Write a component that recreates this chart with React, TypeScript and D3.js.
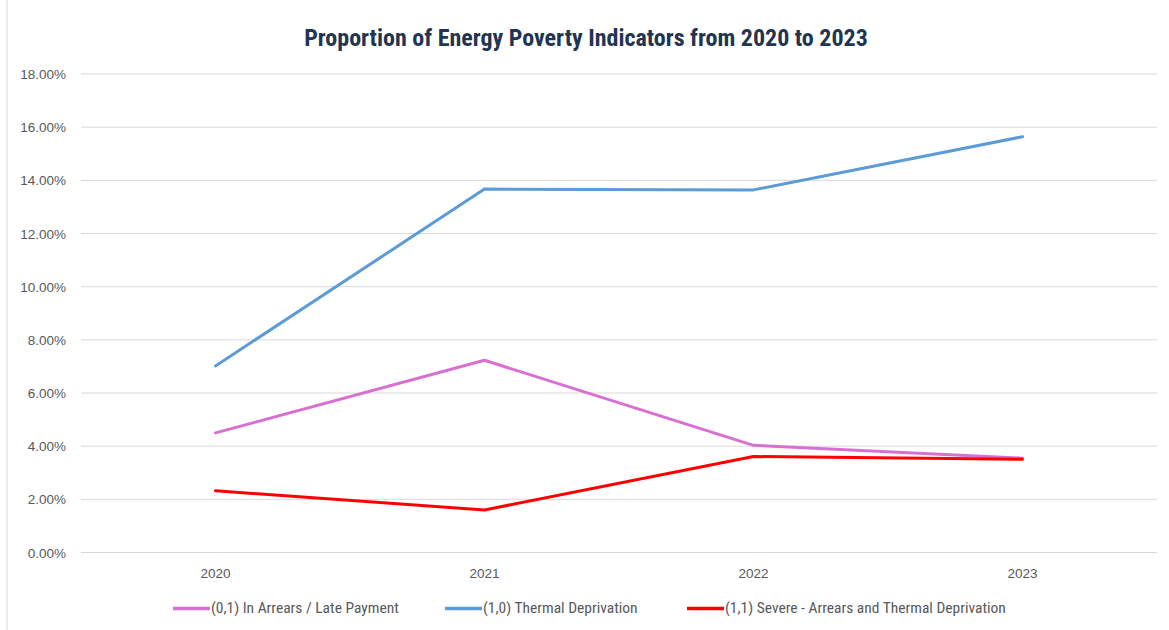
import React from "react";
import * as d3 from "d3";

const years = ["2020", "2021", "2022", "2023"];
const arrears = [0.045, 0.0723, 0.0403, 0.0355];
const thermal = [0.0702, 0.1367, 0.1364, 0.1564];
const severe = [0.0232, 0.016, 0.0361, 0.0351];
const yTicks = [0, 0.02, 0.04, 0.06, 0.08, 0.1, 0.12, 0.14, 0.16, 0.18];
const seriesNames = [
  "(0,1) In Arrears / Late Payment",
  "(1,0) Thermal Deprivation",
  "(1,1) Severe - Arrears and Thermal Deprivation",
];
const seriesColors = ["#D870D2", "#5B9BD8", "#FF0000"];
const title = "Proportion of Energy Poverty Indicators from 2020 to 2023";

const W = 1169;
const H = 630;
const left = 81;
const right = 1157;
const top = 74;
const bottom = 552.5;
const narrow = "'Liberation Sans Narrow', 'Roboto Condensed', 'Arial Narrow', sans-serif";

export default function App() {
  const x = d3.scaleBand<string>().domain(years).range([left, right]);
  const y = d3.scaleLinear().domain([0, 0.18]).range([bottom, top]);
  const line = d3
    .line<number>()
    .x((_, i) => (x(years[i]) as number) + x.bandwidth() / 2)
    .y((d) => y(d));
  const series = [arrears, thermal, severe];
  const fmt = d3.format(".2%");
  const legendX = [173, 445, 687];
  return (
    <div style={{ position: "fixed", left: 0, top: 0 }}>
      <svg width={W} height={H} style={{ display: "block", background: "#fff" }}>
        <line x1={7} x2={7} y1={0} y2={H} stroke="#d9d9d9" strokeWidth={1} />
        <text
          x={586}
          y={46}
          textAnchor="middle"
          fontFamily={narrow}
          fontWeight="bold"
          fontSize={24}
          fill="#1f3552"
        >
          {title}
        </text>
        {yTicks.map((t) => (
          <g key={t}>
            <line x1={left} x2={right} y1={y(t)} y2={y(t)} stroke="#d9d9d9" strokeWidth={1} />
            <text
              x={66}
              y={y(t) + 5}
              textAnchor="end"
              fontFamily="'Liberation Sans', Arial, sans-serif"
              fontSize={13.5}
              fill="#595959"
            >
              {fmt(t)}
            </text>
          </g>
        ))}
        {years.map((yr) => (
          <text
            key={yr}
            x={(x(yr) as number) + x.bandwidth() / 2}
            y={578}
            textAnchor="middle"
            fontFamily="'Liberation Sans', Arial, sans-serif"
            fontSize={13.5}
            fill="#595959"
          >
            {yr}
          </text>
        ))}
        {series.map((s, i) => (
          <path
            key={i}
            d={line(s) as string}
            fill="none"
            stroke={seriesColors[i]}
            strokeWidth={3}
            strokeLinejoin="round"
            strokeLinecap="round"
          />
        ))}
        {seriesNames.map((n, i) => (
          <g key={n}>
            <line
              x1={legendX[i]}
              x2={legendX[i] + 37}
              y1={608.5}
              y2={608.5}
              stroke={seriesColors[i]}
              strokeWidth={3.5}
            />
            <text
              x={legendX[i] + 38}
              y={613}
              fontFamily={narrow}
              fontSize={15.5}
              fill="#595959"
            >
              {n}
            </text>
          </g>
        ))}
      </svg>
    </div>
  );
}
